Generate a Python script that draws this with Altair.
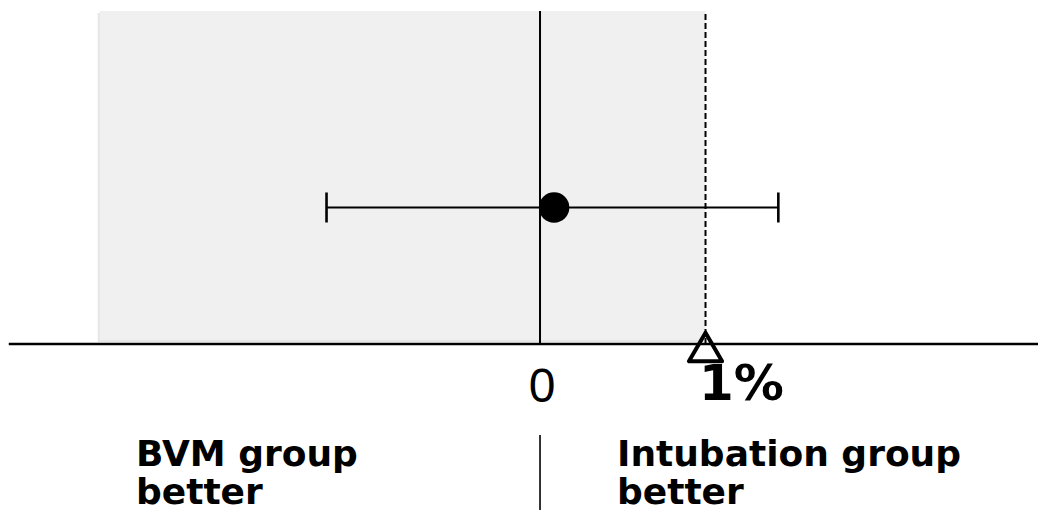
import altair as alt
import pandas as pd

# Risk difference (%) with its 95% confidence interval
estimate = [0.085]
ci_low = [-1.29]
ci_high = [1.44]
row = [1.0]

# Non-inferiority margin (%) and the region it bounds
margin = [1.0]
region_left = [-2.66]
region_top = [2.44]
region_bottom = [0.03]

# Horizontal reference axis extent
axis_left = [-3.21]
axis_right = [3.01]

tick_labels = ["0", "1%"]
tick_values = [0.0, 1.0]

side_labels = ["BVM group\nbetter", "Intubation group\nbetter"]

X_DOMAIN = [-3.263, 3.009]
Y_DOMAIN = [-1.2308, 2.520]

W, H = 1038, 512


def xq(field):
    return alt.X(f"{field}:Q", scale=alt.Scale(domain=X_DOMAIN, nice=False, zero=False), axis=None)


def yq(field):
    return alt.Y(f"{field}:Q", scale=alt.Scale(domain=Y_DOMAIN, nice=False, zero=False), axis=None)


region = pd.DataFrame({"x": region_left, "x2": margin, "y": region_bottom, "y2": region_top})
est = pd.DataFrame({"est": estimate, "lo": ci_low, "hi": ci_high, "row": row})
marg = pd.DataFrame({"m": margin, "base": [0.0], "top": region_top})
zero = pd.DataFrame({"z": [0.0], "base": [0.0], "top": region_top})
axis_df = pd.DataFrame({"a": axis_left, "b": axis_right, "y": [0.0]})
ticks = pd.DataFrame({"label": tick_labels, "v": tick_values, "y": [0.0, 0.0]})

# soft shadow behind the shaded region
shadow = alt.Chart(region).mark_rect(color="#c8c8c8", opacity=0.45, xOffset=-2, x2Offset=-2, yOffset=2, y2Offset=2).encode(
    x=xq("x"), x2="x2", y=yq("y"), y2="y2"
)
shade = alt.Chart(region).mark_rect(color="#f0f0f0").encode(
    x=xq("x"), x2="x2", y=yq("y"), y2="y2"
)

zero_line = alt.Chart(zero).mark_rule(color="black", strokeWidth=2).encode(
    x=xq("z"), y=yq("base"), y2="top"
)
margin_line = alt.Chart(marg).mark_rule(color="black", strokeWidth=2, strokeDash=[6, 3]).encode(
    x=xq("m"), y=yq("base"), y2="top"
)
base_line = alt.Chart(axis_df).mark_rule(color="black", strokeWidth=2.6).encode(
    x=xq("a"), x2="b", y=yq("y")
)

ci_line = alt.Chart(est).mark_rule(color="black", strokeWidth=2).encode(
    x=xq("lo"), x2="hi", y=yq("row")
)
cap_lo = alt.Chart(est).mark_rule(color="black", strokeWidth=2.6, yOffset=-15, y2Offset=15).encode(
    x=xq("lo"), y=yq("row"), y2="row"
)
cap_hi = alt.Chart(est).mark_rule(color="black", strokeWidth=2.6, yOffset=-15, y2Offset=15).encode(
    x=xq("hi"), y=yq("row"), y2="row"
)
point = alt.Chart(est).mark_point(shape="circle", filled=True, color="black", size=930, opacity=1).encode(
    x=xq("est"), y=yq("row")
)

triangle = alt.Chart(marg).mark_point(
    shape="triangle-up", filled=False, stroke="black", strokeWidth=4, strokeJoin="round",
    size=1100, yOffset=3, opacity=1
).encode(x=xq("m"), y=yq("base"))

zero_label = alt.Chart(ticks.iloc[[0]]).mark_text(
    font="Liberation Sans", fontSize=48, fontWeight="normal", color="black",
    align="center", baseline="alphabetic", dx=2, dy=58
).encode(x=xq("v"), y=yq("y"), text="label:N")
margin_label = alt.Chart(ticks.iloc[[1]]).mark_text(
    font="DejaVu Sans", fontSize=50, fontWeight="bold", color="black",
    align="center", baseline="alphabetic", dx=36, dy=56
).encode(x=xq("v"), y=yq("y"), text="label:N")

divider = alt.Chart(zero).mark_rule(color="black", strokeWidth=1.6).encode(
    x=xq("z"), y=alt.value(435), y2=alt.value(510)
)

left_text = alt.Chart(pd.DataFrame({"t": [side_labels[0]]})).mark_text(
    font="DejaVu Sans", fontSize=36, fontWeight="bold", color="black",
    align="left", baseline="alphabetic", lineBreak="\n", lineHeight=38
).encode(x=alt.value(136), y=alt.value(466), text="t:N")
right_text = alt.Chart(pd.DataFrame({"t": [side_labels[1]]})).mark_text(
    font="DejaVu Sans", fontSize=36, fontWeight="bold", color="black",
    align="left", baseline="alphabetic", lineBreak="\n", lineHeight=38
).encode(x=alt.value(617), y=alt.value(466), text="t:N")

chart = alt.layer(
    shadow, shade, zero_line, margin_line, base_line,
    ci_line, cap_lo, cap_hi, point, triangle,
    zero_label, margin_label, divider, left_text, right_text,
).properties(
    width=W, height=H, padding=0, autosize=alt.AutoSizeParams(type="none"), background="white"
).configure_view(stroke=None)

chart.save("out.html", embed_options={"renderer": "svg", "actions": False})
